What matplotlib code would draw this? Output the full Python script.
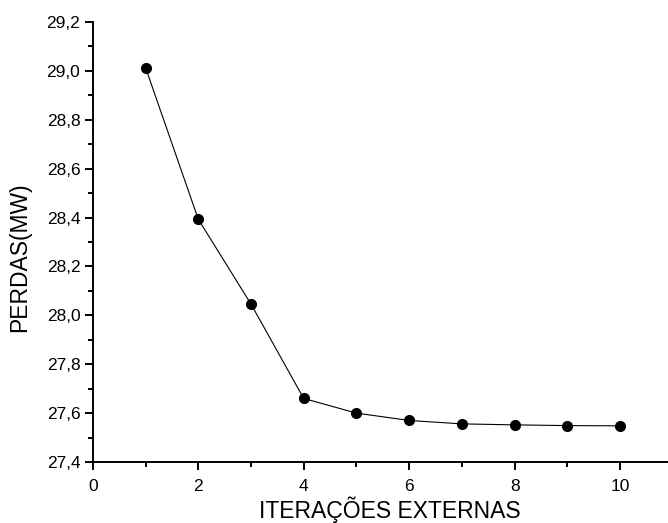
import matplotlib
matplotlib.use("Agg")
import matplotlib.pyplot as plt
from matplotlib.ticker import MultipleLocator, FuncFormatter

plt.rcParams["font.family"] = ["Liberation Sans", "DejaVu Sans"]

# ── Data ──────────────────────────────────────────────────────────────────────
iteracoes = [1, 2, 3, 4, 5, 6, 7, 8, 9, 10]
perdas = [29.013, 28.393, 28.046, 27.660, 27.600, 27.570, 27.556, 27.552, 27.549, 27.548]

fig = plt.figure(figsize=(6.68, 5.23), dpi=100)
ax = fig.add_axes([0.139, 0.1166, 0.861, 0.8414])

ax.plot(iteracoes, perdas, color="black", lw=0.8, marker="o", ms=7,
        markerfacecolor="black", markeredgecolor="black")

ax.set_xlim(0, 10.91)
ax.set_ylim(27.4, 29.2)

ax.spines["top"].set_visible(False)
ax.spines["right"].set_visible(False)
for s in ("left", "bottom"):
    ax.spines[s].set_linewidth(1.4)

ax.xaxis.set_major_locator(MultipleLocator(2))
ax.xaxis.set_minor_locator(MultipleLocator(1))
ax.yaxis.set_major_locator(MultipleLocator(0.2))
ax.yaxis.set_minor_locator(MultipleLocator(0.1))
ax.yaxis.set_major_formatter(FuncFormatter(lambda v, p: f"{v:.1f}".replace(".", ",")))

ax.tick_params(which="major", direction="out", length=6, width=1.4, labelsize=12.5)
ax.tick_params(which="minor", direction="out", length=3.5, width=1.4)
ax.tick_params(axis="x", which="major", pad=6)
ax.tick_params(axis="y", which="major", pad=3)

ax.set_xlabel("ITERAÇÕES EXTERNAS", fontsize=16.5)
ax.set_ylabel("PERDAS(MW)", fontsize=16.5)
ax.xaxis.set_label_coords(0.517, -0.109)
ax.yaxis.set_label_coords(-0.127, 0.466)
ax.xaxis.label.set_verticalalignment("center")
ax.yaxis.label.set_verticalalignment("center")

fig.savefig("out.png", dpi=100, facecolor="white")
